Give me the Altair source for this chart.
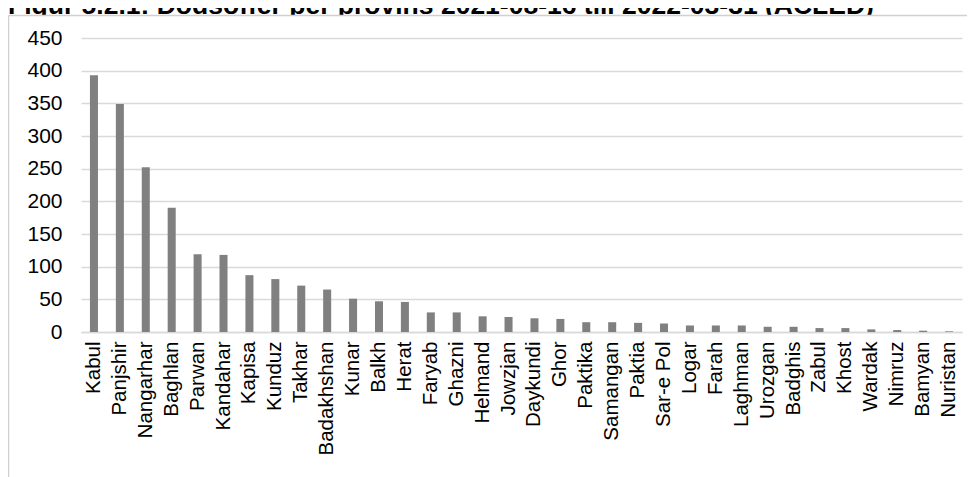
import altair as alt
import pandas as pd

provinces = ["Kabul", "Panjshir", "Nangarhar", "Baghlan", "Parwan", "Kandahar", "Kapisa",
             "Kunduz", "Takhar", "Badakhshan", "Kunar", "Balkh", "Herat", "Faryab", "Ghazni",
             "Helmand", "Jowzjan", "Daykundi", "Ghor", "Paktika", "Samangan", "Paktia",
             "Sar-e Pol", "Logar", "Farah", "Laghman", "Urozgan", "Badghis", "Zabul", "Khost",
             "Wardak", "Nimruz", "Bamyan", "Nuristan"]
deaths = [393, 349, 252, 190, 119, 118, 87,
          81, 71, 65, 51, 47, 46, 30, 30,
          24, 23, 21, 20, 15, 15, 14,
          13, 10, 10, 10, 8, 8, 6, 6,
          4, 3, 2, 1]
y_ticks = [0, 50, 100, 150, 200, 250, 300, 350, 400, 450]
title_text = "Figur 5.2.1: Dödsoffer per provins 2021-08-16 till 2022-03-31 (ACLED)"

df = pd.DataFrame({"province": provinces, "deaths": deaths})

FONT = "Liberation Sans"
GRID = "#d9d9d9"
FRAME = "#d0d0d0"

bars = alt.Chart(df).mark_bar(color="#808080").encode(
    x=alt.X("province:N", sort=provinces,
            scale=alt.Scale(paddingInner=0.69, paddingOuter=0.345),
            axis=alt.Axis(title=None, labelAngle=-90, labelFontSize=20.5, labelFont=FONT,
                          labelColor="#000000", ticks=False, domainColor=GRID,
                          domainWidth=1.5, labelPadding=9)),
    y=alt.Y("deaths:Q", scale=alt.Scale(domain=[0, 450], nice=False),
            axis=alt.Axis(title=None, values=y_ticks, grid=True, gridColor=GRID,
                          gridWidth=1.5, domain=False, ticks=False, labelPadding=19,
                          labelFontSize=21, labelFont=FONT, labelColor="#000000")),
)

one = pd.DataFrame({"k": [0]})

title = alt.Chart(pd.DataFrame({"t": [title_text]})).mark_text(
    font=FONT, fontWeight="bold", fontSize=26.5, align="left", baseline="alphabetic",
    color="#000000").encode(text="t:N", x=alt.value(-73), y=alt.value(-24))

mask = alt.Chart(one).mark_rect(color="white").encode(
    x=alt.value(-73), x2=alt.value(1000), y=alt.value(-22.5), y2=alt.value(-14))

frame_left = alt.Chart(one).mark_rule(color=FRAME, strokeWidth=1.5).encode(
    x=alt.value(-72.5), y=alt.value(-22.5), y2=alt.value(600))
frame_top = alt.Chart(one).mark_rule(color=FRAME, strokeWidth=1.5).encode(
    x=alt.value(-72.5), x2=alt.value(1000), y=alt.value(-22.5))

chart = alt.layer(bars, title, mask, frame_left, frame_top).properties(
    width=881, height=294,
    autosize=alt.AutoSizeParams(type="none"),
    padding={"left": 73, "top": 30, "right": 5, "bottom": 145},
).configure_view(stroke=None)

chart.save("out.html", embed_options={"renderer": "svg", "actions": False})
